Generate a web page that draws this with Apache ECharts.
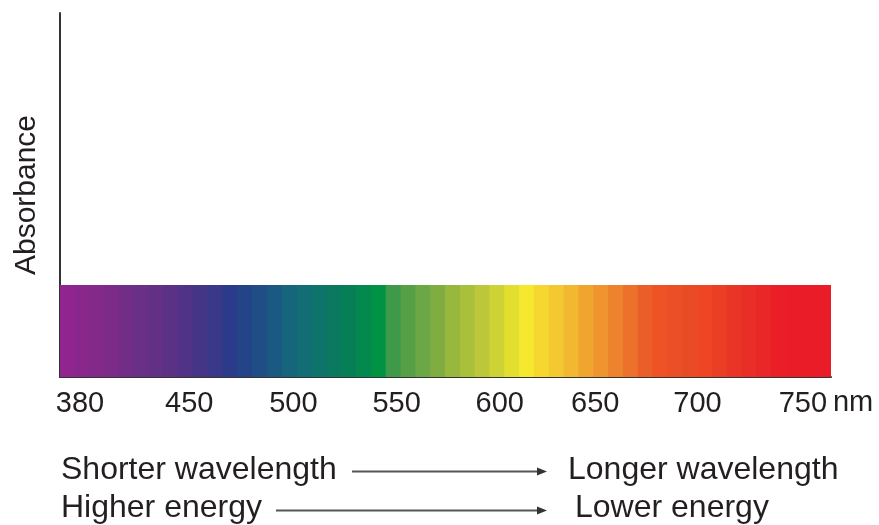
<!DOCTYPE html>
<html lang="en">
<head>
    <meta charset="utf-8">
    <title>Absorbance spectrum</title>
    <script src="https://cdn.jsdelivr.net/npm/echarts@6/dist/echarts.min.js"></script>
    <style>
        html, body { margin: 0; padding: 0; background: #fff; }
        #chart { width: 879px; height: 525px; }
    </style>
</head>
<body>
<div id="chart"></div>
<script>
    // colour of each vertical band of the visible spectrum, left to right
    var bandColors = [
        '#90258F', '#8A278D', '#83298A', '#7C2B89', '#712D87', '#6A2F86', '#623085', '#5A3185',
        '#503386', '#453587', '#393889', '#2B3B8B', '#244488', '#1F4E86', '#1A5A82', '#16657C',
        '#126E74', '#0E736A', '#0A7960', '#067F57', '#03894D', '#029244', '#3E9A48', '#55A047',
        '#6CA745', '#80AD41', '#98B73D', '#A9C03B', '#BCC839', '#CDD235', '#E2DF31', '#F6E82E',
        '#F5D72F', '#F4C830', '#F2B830', '#F0A52F', '#EF942E', '#ED842D', '#EC722C', '#EA5E29',
        '#EF5325', '#EB4F25', '#E94C25', '#EE4625', '#EA3F25', '#E93526', '#E82E27', '#E92628',
        '#EA1E27', '#EA1C27', '#EA1C27', '#EA1C27'
    ];
    // height of the spectrum strip (same for every band)
    var bandHeight = 1;
    // wavelength labels and where they sit, in band units along the strip
    var tickLabels = ['380', '450', '500', '550', '600', '650', '700', '750'];
    var tickPositions = [1.35, 8.72, 15.74, 22.7, 29.66, 36.1, 43.0, 50.1];

    var bandIndex = bandColors.map(function (c, i) { return i; });
    var bandData = bandColors.map(function (c) {
        return { value: bandHeight, itemStyle: { color: c } };
    });

    var textColor = '#231F20';
    var axisColor = '#333333';
    var font = 'Liberation Sans, Arial, sans-serif';

    var chart = echarts.init(document.getElementById('chart'));
    chart.setOption({
        animation: false,
        grid: { left: 60, right: 48, top: 13, bottom: 148 },
        xAxis: [
            {
                type: 'category',
                data: bandIndex,
                boundaryGap: true,
                axisLine: { show: true, lineStyle: { color: axisColor, width: 2 } },
                axisTick: { show: false },
                axisLabel: { show: false },
                splitLine: { show: false }
            },
            {
                type: 'value',
                position: 'bottom',
                min: 0,
                max: bandColors.length,
                axisLine: { show: false },
                axisTick: { show: false },
                splitLine: { show: false },
                name: 'nm',
                nameLocation: 'end',
                nameGap: -5,
                nameTextStyle: { color: textColor, fontSize: 29, fontFamily: font, verticalAlign: 'top', padding: [11, 0, 0, 0] },
                axisLabel: {
                    customValues: tickPositions,
                    margin: 12,
                    color: textColor,
                    fontSize: 29,
                    fontFamily: font,
                    formatter: function (v) {
                        var k = tickPositions.indexOf(v);
                        return k >= 0 ? tickLabels[k] : '';
                    }
                }
            }
        ],
        yAxis: {
            type: 'value',
            min: 0,
            max: 3.957,
            name: 'Absorbance',
            nameLocation: 'middle',
            nameGap: 18,
            nameRotate: 90,
            nameTextStyle: { color: textColor, fontSize: 30, fontFamily: font },
            axisLine: { show: true, lineStyle: { color: axisColor, width: 2 } },
            axisTick: { show: false },
            axisLabel: { show: false },
            splitLine: { show: false }
        },
        series: [
            {
                type: 'bar',
                xAxisIndex: 0,
                data: bandData,
                barWidth: 15.8,
                silent: true
            }
        ],
        graphic: [
            { type: 'text', left: 61, top: 454, style: { text: 'Shorter wavelength', fill: textColor, fontSize: 32, fontFamily: font } },
            { type: 'text', left: 568, top: 454, style: { text: 'Longer wavelength', fill: textColor, fontSize: 32, fontFamily: font } },
            { type: 'text', left: 61, top: 492, style: { text: 'Higher energy', fill: textColor, fontSize: 32, fontFamily: font } },
            { type: 'text', left: 575, top: 492, style: { text: 'Lower energy', fill: textColor, fontSize: 32, fontFamily: font } },
            { type: 'line', shape: { x1: 352, y1: 471.5, x2: 540, y2: 471.5 }, style: { stroke: '#555', lineWidth: 2 } },
            { type: 'polygon', shape: { points: [[537, 467.5], [547, 471.5], [537, 475.5]] }, style: { fill: '#333' } },
            { type: 'line', shape: { x1: 276, y1: 510.5, x2: 540, y2: 510.5 }, style: { stroke: '#555', lineWidth: 2 } },
            { type: 'polygon', shape: { points: [[537, 506.5], [547, 510.5], [537, 514.5]] }, style: { fill: '#333' } }
        ]
    });
</script>
</body>
</html>
